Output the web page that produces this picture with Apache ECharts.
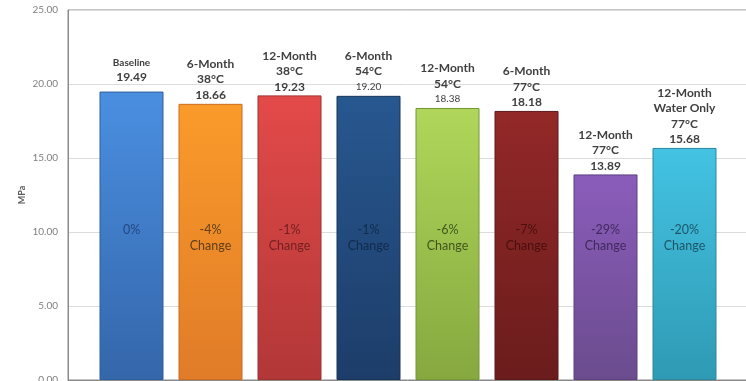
<!DOCTYPE html>
<html><head><meta charset="utf-8">
<script src="https://cdn.jsdelivr.net/npm/echarts@6/dist/echarts.min.js"></script>
<style>html,body{margin:0;padding:0;background:#fff}#c{width:746px;height:381px}</style>
</head><body><div id="c"></div>
<script>
var categories = ['Baseline', '6-Month\n38°C', '12-Month\n38°C', '6-Month\n54°C', '12-Month\n54°C', '6-Month\n77°C', '12-Month\n77°C', '12-Month\nWater Only\n77°C'];
var values = [19.49, 18.66, 19.23, 19.20, 18.38, 18.18, 13.89, 15.68];
var changes = ['0%', '-4%\nChange', '-1%\nChange', '-1%\nChange', '-6%\nChange', '-7%\nChange', '-29%\nChange', '-20%\nChange'];
var changeLevel = 10;
var yTicks = [0, 5, 10, 15, 20, 25];

var topColors = ['#4a8ee0', '#fa9a2a', '#e24a49', '#27578f', '#afd65a', '#922828', '#8a5cba', '#43c2e2'];
var botColors = ['#3466aa', '#e07b28', '#b23737', '#1d3d69', '#86a83f', '#6b1c1c', '#6b4c8e', '#2f9ab4'];
var edgeColors = ['#2f5f9e', '#c96d1e', '#9e3030', '#183459', '#779636', '#5c1818', '#5c407d', '#2a879e'];
var innerText = ['#1c3a6e', '#3b2a14', '#5c1616', '#0c2340', '#2b3b14', '#3d0a0a', '#2e1d4a', '#143c4c'];

var smallName = { 0: true };
var smallValue = { 3: true, 4: true };

var barData = values.map(function (v, i) {
  var nameStyle = smallName[i] ? 'ns' : 'n';
  var valStyle = smallValue[i] ? 'vs' : 'v';
  var lines = categories[i].split('\n').map(function (s) { return '{' + nameStyle + '|' + s + '}'; });
  lines.push('{' + valStyle + '|' + v.toFixed(2) + '}');
  return {
    value: [i + 1, v],
    itemStyle: {
      color: { type: 'linear', x: 0, y: 0, x2: 0, y2: 1, colorStops: [
        { offset: 0, color: topColors[i] }, { offset: 0.02, color: topColors[i] }, { offset: 1, color: botColors[i] }] },
      borderColor: edgeColors[i], borderWidth: 1
    },
    label: { formatter: lines.join('\n'), distance: i === 0 ? 7 : 1 }
  };
});

var changeData = changes.map(function (c, i) {
  return { value: [i + 1, changeLevel], label: { formatter: c, color: innerText[i] } };
});

var chart = echarts.init(document.getElementById('c'));
chart.setOption({
  animation: false,
  grid: { left: 68, right: -10, top: 10, bottom: 1, show: true, borderColor: '#8a8a8a', borderWidth: 1,
          containLabel: false, outerBoundsMode: 'none' },
  xAxis: {
    type: 'value', min: 0.196, max: 8.905,
    axisLine: { show: true, onZero: false, lineStyle: { color: '#8a8a8a' } },
    axisTick: { show: false }, axisLabel: { show: false }, splitLine: { show: false }
  },
  yAxis: {
    type: 'value', min: yTicks[0], max: yTicks[yTicks.length - 1], interval: 5,
    name: 'MPa', nameLocation: 'middle', nameGap: 41, nameMoveOverlap: false,
    nameTextStyle: { fontFamily: 'Lato', fontWeight: 'bold', fontSize: 9, color: '#595959' },
    axisLine: { show: true, lineStyle: { color: '#8a8a8a' } },
    axisTick: { show: false },
    axisLabel: { fontFamily: 'Lato', fontSize: 10, color: '#7f7f7f', margin: 10, formatter: function (v) { return v.toFixed(2); } },
    splitLine: { lineStyle: { color: '#dcdcdc' } }
  },
  series: [{
    type: 'bar', barWidth: 64, data: barData,
    label: {
      show: true, position: 'top', align: 'center',
      rich: {
        n: { fontFamily: 'Lato', fontWeight: 'bold', fontSize: 12, color: '#404040', lineHeight: 15.5 },
        ns: { fontFamily: 'Lato', fontWeight: 'bold', fontSize: 10, color: '#404040', lineHeight: 13 },
        v: { fontFamily: 'Lato', fontWeight: 'bold', fontSize: 12, color: '#404040', lineHeight: 15.5 },
        vs: { fontFamily: 'Lato', fontSize: 10, color: '#404040', lineHeight: 15.5 }
      }
    }
  }, {
    type: 'scatter', symbolSize: 0, z: 5, data: changeData,
    label: {
      show: true, position: 'inside', verticalAlign: 'top', align: 'center', offset: [0, -10],
      fontFamily: 'Lato', fontSize: 12.5, lineHeight: 16
    }
  }]
});
</script></body></html>
